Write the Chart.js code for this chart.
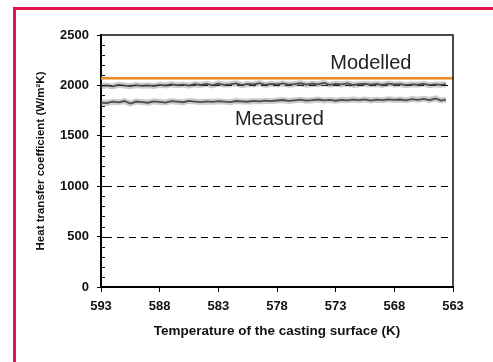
<!DOCTYPE html>
<html>
<head>
<meta charset="utf-8">
<script src="https://cdn.jsdelivr.net/npm/chart.js@4/dist/chart.umd.min.js"></script>
<style>
  html, body { margin: 0; padding: 0; background: #fff; }
  #wrap { position: relative; width: 493px; height: 362px; overflow: hidden; }
  #frame { position: absolute; left: 13px; top: 7px; width: 600px; height: 600px;
           border-left: 3px solid #e3124a; border-top: 3px solid #e3124a; }
  canvas { position: absolute; left: 0; top: 0; }
</style>
</head>
<body>
<div id="wrap">
  <div id="frame"></div>
  <canvas id="chart" width="493" height="362"></canvas>
</div>
<script>
// temperature of the casting surface (K) for the measured traces
const temps = [593, 592.5, 592, 591.5, 591, 590.5, 590, 589.5, 589, 588.5,
  588, 587.5, 587, 586.5, 586, 585.5, 585, 584.5, 584, 583.5,
  583, 582.5, 582, 581.5, 581, 580.5, 580, 579.5, 579, 578.5,
  578, 577.5, 577, 576.5, 576, 575.5, 575, 574.5, 574, 573.5,
  573, 572.5, 572, 571.5, 571, 570.5, 570, 569.5, 569, 568.5,
  568, 567.5, 567, 566.5, 566, 565.5, 565, 564.5, 564, 563.6];

const measuredUpper = [1995, 2000, 1990, 2005, 1998, 1992, 2003, 1996, 2001, 1994,
  2006, 1999, 2010, 2002, 2008, 1997, 2012, 2004, 2015, 2000,
  2018, 2006, 2011, 2020, 2003, 2014, 2009, 2022, 2005, 2016,
  2010, 2019, 2007, 2013, 2021, 2008, 2017, 2011, 2024, 2006,
  2015, 2010, 2019, 2004, 2012, 2016, 2008, 2014, 2005, 2018,
  2009, 2013, 2003, 2011, 2007, 2015, 2002, 2010, 2006, 2012];

const measuredLower = [1830, 1825, 1838, 1832, 1845, 1820, 1840, 1835, 1828, 1842,
  1836, 1830, 1844, 1838, 1833, 1846, 1840, 1835, 1841, 1837,
  1843, 1839, 1834, 1845, 1841, 1838, 1846, 1842, 1848, 1844,
  1850, 1855, 1846, 1852, 1858, 1849, 1853, 1860, 1851, 1856,
  1848, 1857, 1852, 1859, 1854, 1861, 1850, 1858, 1853, 1862,
  1856, 1860, 1852, 1864, 1857, 1866, 1855, 1870, 1850, 1858];

const modelledTemps = [593, 563];
const modelled = [2070, 2070];

const xTicks = [593, 588, 583, 578, 573, 568, 563];
const yTicks = [0, 500, 1000, 1500, 2000, 2500];
const dashedLevels = [500, 1000, 1500, 2000];

const toPoints = (xs, ys) => xs.map((x, i) => ({ x: x, y: ys[i] }));

// dashed grid goes under the curves
const gridPlugin = {
  id: "dashedGrid",
  beforeDatasetsDraw(chart) {
    const ctx = chart.ctx;
    const a = chart.chartArea;
    const y = chart.scales.y;
    ctx.save();
    ctx.strokeStyle = "#000";
    ctx.lineWidth = 1;
    ctx.setLineDash([7, 5]);
    dashedLevels.forEach(v => {
      const py = Math.round(y.getPixelForValue(v)) + 0.5;
      ctx.beginPath();
      ctx.moveTo(a.left + 4, py);
      ctx.lineTo(a.right, py);
      ctx.stroke();
    });
    ctx.restore();
  }
};

// frame, inner minor ticks and the two curve labels
const decorPlugin = {
  id: "decor",
  afterDraw(chart) {
    const ctx = chart.ctx;
    const a = chart.chartArea;
    const y = chart.scales.y;
    const x = chart.scales.x;
    ctx.save();
    ctx.strokeStyle = "#111";
    ctx.lineWidth = 1.5;
    ctx.beginPath();
    ctx.moveTo(a.left, a.top);
    ctx.lineTo(a.right, a.top);
    ctx.lineTo(a.right, a.bottom);
    ctx.stroke();
    ctx.lineWidth = 1;
    for (let v = 100; v < 2500; v += 100) {
      const py = Math.round(y.getPixelForValue(v)) + 0.5;
      ctx.beginPath();
      ctx.moveTo(a.left, py);
      ctx.lineTo(a.left + 4, py);
      ctx.stroke();
    }
    ctx.fillStyle = "#222";
    ctx.font = "20px 'Liberation Sans', Arial, sans-serif";
    ctx.textAlign = "center";
    ctx.textBaseline = "middle";
    ctx.fillText("Modelled", x.getPixelForValue(570), y.getPixelForValue(2222));
    ctx.fillText("Measured", x.getPixelForValue(577.8), y.getPixelForValue(1657));
    ctx.restore();
  }
};

const blurLine = (data) => ({
  data: data, borderColor: "rgba(110,110,110,0.35)", borderWidth: 6,
  pointRadius: 0, tension: 0
});
const coreLine = (data) => ({
  data: data, borderColor: "rgba(25,25,25,0.85)", borderWidth: 1.8,
  pointRadius: 0, tension: 0
});

const fontTick = { family: "'Liberation Sans', Arial, sans-serif", size: 13, weight: "bold" };

new Chart(document.getElementById("chart").getContext("2d"), {
  type: "line",
  data: {
    datasets: [
      blurLine(toPoints(temps, measuredUpper)),
      coreLine(toPoints(temps, measuredUpper)),
      blurLine(toPoints(temps, measuredLower)),
      coreLine(toPoints(temps, measuredLower)),
      {
        data: toPoints(modelledTemps, modelled),
        borderColor: "#f08a1e", borderWidth: 2.5, pointRadius: 0
      }
    ]
  },
  options: {
    responsive: false,
    animation: false,
    layout: { padding: { left: 30, top: 35, right: 40, bottom: 19 } },
    plugins: { legend: { display: false }, tooltip: { enabled: false } },
    scales: {
      x: {
        type: "linear",
        reverse: true,
        min: 563,
        max: 593,
        afterBuildTicks: (scale) => { scale.ticks = xTicks.map(v => ({ value: v })); },
        afterFit: (scale) => { scale.height = 56; },
        border: { color: "#000", width: 2 },
        grid: { drawOnChartArea: false, drawTicks: true, tickLength: 5, tickColor: "#000" },
        ticks: {
          color: "#111", padding: 7, maxRotation: 0, font: fontTick,
          callback: (v) => String(v)
        },
        title: {
          display: true,
          text: "Temperature of the casting surface (K)",
          color: "#111",
          padding: { top: 4, bottom: 4 },
          font: { family: "'Liberation Sans', Arial, sans-serif", size: 13.5, weight: "bold" }
        }
      },
      y: {
        min: 0,
        max: 2500,
        afterBuildTicks: (scale) => { scale.ticks = yTicks.map(v => ({ value: v })); },
        afterFit: (scale) => { scale.width = 71; },
        border: { color: "#000", width: 2 },
        grid: {
          drawOnChartArea: false,
          tickColor: "#000",
          tickLength: 4
        },
        ticks: {
          color: "#111", padding: 8, font: fontTick,
          callback: (v) => String(v)
        },
        title: {
          display: true,
          text: "Heat transfer coefficient (W/m\u00B2K)",
          color: "#111",
          padding: { top: 4, bottom: 4 },
          font: { family: "'Liberation Sans', Arial, sans-serif", size: 11.5, weight: "bold" }
        }
      }
    }
  },
  plugins: [gridPlugin, decorPlugin]
});
</script>
</body>
</html>
